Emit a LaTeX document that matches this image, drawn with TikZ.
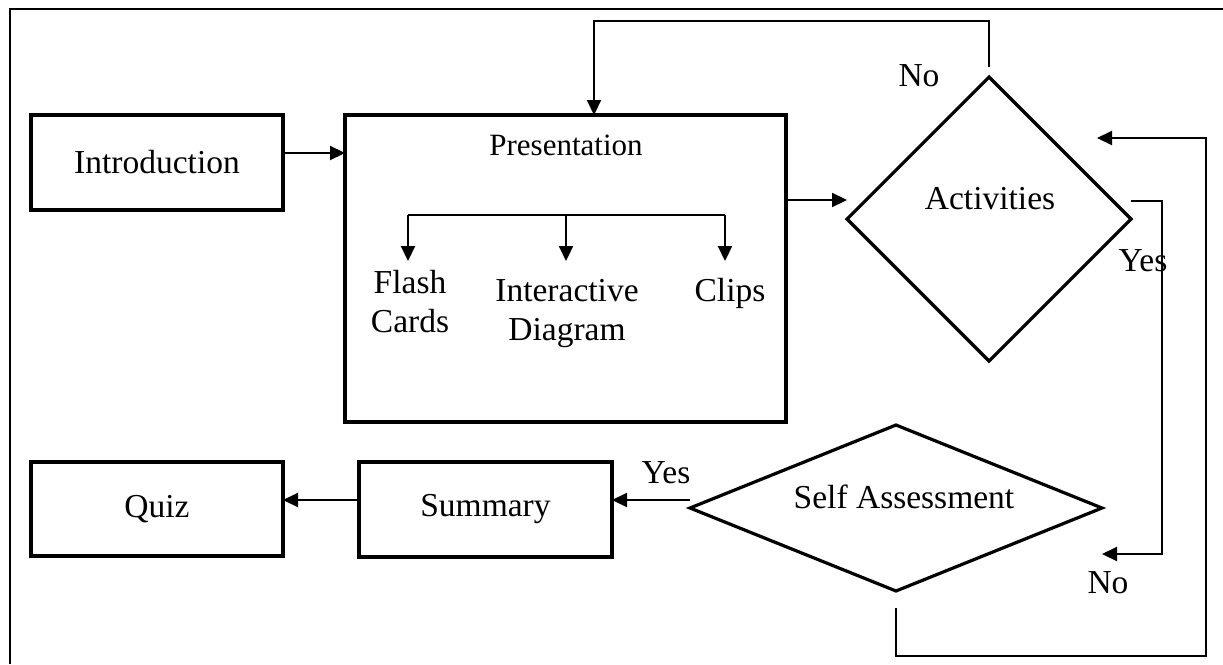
\documentclass[tikz,border=0pt]{standalone}
\usepackage{fontspec}
\setmainfont{Liberation Serif}
\usetikzlibrary{shapes.geometric,arrows.meta}
\tikzset{
  box/.style={draw, line width=3.4pt, inner sep=0pt, outer sep=0pt, font=\fontsize{33.5}{39}\selectfont},
  dia/.style={draw, diamond, line width=3.2pt, inner sep=0pt, outer sep=0pt},
  txt/.style={inner sep=0pt, outer sep=0pt, font=\fontsize{33.5}{39}\selectfont, align=center},
  conn/.style={line width=2.2pt, -{Triangle[length=15pt,width=14pt]}},
  plainline/.style={line width=2.2pt},
}
\begin{document}
\begin{tikzpicture}[x=1pt,y=-1pt]
\useasboundingbox (0,0) rectangle (1223,664);
% outer frame (left and top visible)
\draw[line width=1.4pt] (10,664) -- (10,9) -- (1223,9);

% boxes
\node[box, minimum width=252pt, minimum height=95pt] (intro) at (157,162.5) {Introduction};
\node[box, minimum width=441pt, minimum height=307pt] (pres) at (565.5,268.5) {};
\node[txt, font=\fontsize{31}{37}\selectfont, anchor=base] (prestitle) at (566,155) {Presentation};
\node[box, minimum width=253pt, minimum height=95pt] (summ) at (485.5,509.5) {Summary};
\node[box, minimum width=252pt, minimum height=94pt] (quiz) at (157,509) {Quiz};

% diamonds
\node[dia, minimum width=284pt, minimum height=284pt] (act) at (989,219) {};
\node[txt, anchor=base] (acttext) at (990,209) {Activities};
\node[dia, minimum width=412pt, minimum height=166pt] (sa) at (896,508) {};
\node[txt, anchor=base] (satext) at (904,508) {Self Assessment};

% presentation contents
\node[txt] (flash) at (410,302) {Flash\\Cards};
\node[txt] (inter) at (567,313.5) {Interactive\\Diagram};
\node[txt, anchor=base] (clips) at (730,301) {Clips};
\coordinate (bl) at (408,215);
\coordinate (bm) at (566,215);
\coordinate (brr) at (725,215);
\coordinate (fa) at (408,261);
\coordinate (ia) at (566,261);
\coordinate (ca) at (725,261);
\draw[plainline] (bl) -- (brr);
\draw[conn] (bl) -- (fa);
\draw[conn] (bm) -- (ia);
\draw[conn] (brr) -- (ca);

% connectors
\draw[conn] (intro.east |- 0,153) -- (pres.west |- 0,153);
\draw[conn] (pres.east |- 0,200) -- (act.west |- 0,200);
\draw[conn] ([yshift=10pt]act.north) -- ++(0,-46) -| ([xshift=28.5pt]pres.north);
\coordinate (yesA) at (1162,201);
\draw[conn] (act.east |- 0,201) -- (yesA) |- ([yshift=-46pt]sa.east);
\coordinate (loopA) at (1206,656);
\coordinate (actin) at (1097,138);
\draw[conn] ([yshift=-17pt]sa.south) |- (loopA) |- (actin);
\draw[conn] (sa.west |- 0,500) -- (summ.east |- 0,500);
\draw[conn] (summ.west |- 0,500) -- (quiz.east |- 0,500);

% labels
\node[txt, anchor=base] (no1) at (919,86) {No};
\node[txt, anchor=base] (yes1) at (1143,271) {Yes};
\node[txt, anchor=base] (no2) at (1108,593) {No};
\node[txt, anchor=base] (yes2) at (666,483) {Yes};
\end{tikzpicture}
\end{document}
